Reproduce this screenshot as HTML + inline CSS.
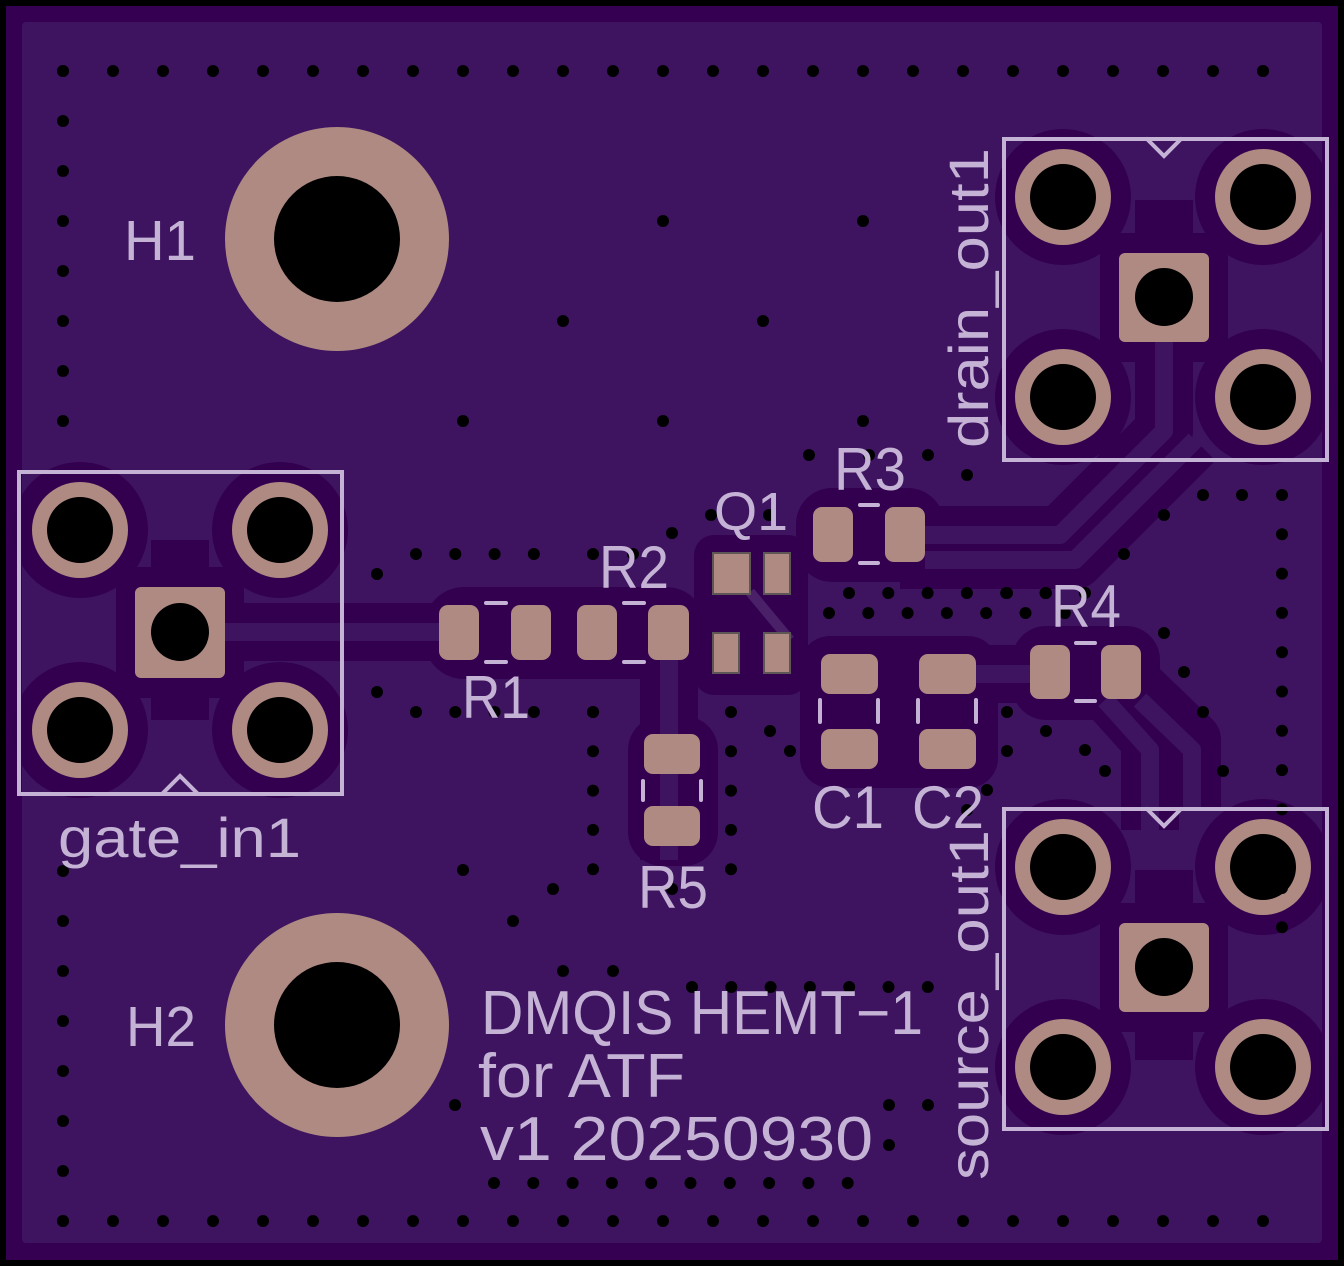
<!DOCTYPE html>
<html><head><meta charset="utf-8"><style>
html,body{margin:0;padding:0;background:#000;}
svg{display:block}
text{font-family:"Liberation Sans",sans-serif;fill:#c5b3d6}
</style></head><body>
<svg width="1344" height="1266" viewBox="0 0 1344 1266" xmlns="http://www.w3.org/2000/svg">
<rect x="0" y="0" width="1344" height="1266" fill="#000"/>
<rect x="6" y="6" width="1332" height="1254" fill="#350052"/>
<rect x="22" y="22" width="1300" height="1221" rx="4" fill="#3e1460"/>

<!-- clearance areas -->
<g fill="#330050">
  <!-- gate connector clearances -->
  <circle cx="80" cy="530" r="68"/><circle cx="280" cy="530" r="68"/>
  <circle cx="80" cy="730" r="68"/><circle cx="280" cy="730" r="68"/>
  <rect x="116" y="567" width="128" height="131" rx="12"/>
  <circle cx="1063" cy="197" r="68"/><circle cx="1263" cy="197" r="68"/>
  <circle cx="1063" cy="397" r="68"/><circle cx="1263" cy="397" r="68"/>
  <rect x="1100" y="233" width="128" height="129" rx="12"/>
  <circle cx="1063" cy="867" r="68"/><circle cx="1263" cy="867" r="68"/>
  <circle cx="1063" cy="1067" r="68"/><circle cx="1263" cy="1067" r="68"/>
  <rect x="1100" y="903" width="128" height="129" rx="12"/>
  <!-- SMD clearances -->
  <rect x="424" y="587" width="282" height="92" rx="40"/>
  <rect x="694" y="535" width="114" height="160" rx="20"/>
  <rect x="796" y="488" width="148" height="94" rx="36"/>
  <rect x="800" y="636" width="198" height="152" rx="30"/>
  <rect x="628" y="716" width="90" height="150" rx="34"/>
  <rect x="1012" y="626" width="148" height="94" rx="34"/>
</g>
<!-- traces: dark clearance then copper -->
<g fill="none" stroke="#330050" stroke-width="58" stroke-linejoin="round">
  <path d="M225 632 H440"/>
  <path d="M669 632 V860"/>
  <path d="M924 535 H1060 L1164 431 V342"/>
  <path d="M900 560 H1075 L1195 440"/>
  <path d="M976 674 H1030"/>
  <path d="M1105 690 L1150 740 V830"/>
  <path d="M1140 690 L1192 740 V810"/>
  <path d="M180 632 V540 M180 632 V720"/>
  <path d="M1164 297 V200"/>
  <path d="M1164 967 V870 M1164 967 V1060"/>
</g>
<g fill="none" stroke="#3e1460" stroke-width="18" stroke-linejoin="round">
  <path d="M225 632 H440"/>
  <path d="M669 660 V860"/>
  <path d="M924 535 H1060 L1164 431 V342"/>
  <path d="M925 560 H1075 L1195 440"/>
  <path d="M976 674 H1030"/>
  <path d="M1105 700 L1150 750 V830"/>
  <path d="M1140 700 L1192 750 V810"/>
  <path d="M750 592 L790 640" stroke="#4a2068" stroke-width="10"/>
</g>

<!-- THT pads -->
<g fill="#ae8a82">
  <circle cx="80" cy="530" r="48"/><circle cx="280" cy="530" r="48"/>
  <circle cx="80" cy="730" r="48"/><circle cx="280" cy="730" r="48"/>
  <rect x="135" y="587" width="90" height="91" rx="6"/>
  <circle cx="1063" cy="197" r="48"/><circle cx="1263" cy="197" r="48"/>
  <circle cx="1063" cy="397" r="48"/><circle cx="1263" cy="397" r="48"/>
  <rect x="1119" y="253" width="90" height="89" rx="6"/>
  <circle cx="1063" cy="867" r="48"/><circle cx="1263" cy="867" r="48"/>
  <circle cx="1063" cy="1067" r="48"/><circle cx="1263" cy="1067" r="48"/>
  <rect x="1119" y="923" width="90" height="89" rx="6"/>
  <circle cx="337" cy="239" r="112"/>
  <circle cx="337" cy="1025" r="112"/>
  <!-- SMD -->
  <rect x="439" y="605" width="40" height="55" rx="9"/><rect x="511" y="605" width="40" height="55" rx="9"/>
  <rect x="577" y="605" width="40" height="55" rx="9"/><rect x="648" y="605" width="41" height="55" rx="9"/>
  <rect x="813" y="507" width="40" height="55" rx="9"/><rect x="885" y="507" width="40" height="55" rx="9"/>
  <rect x="1030" y="645" width="40" height="54" rx="9"/><rect x="1101" y="645" width="40" height="54" rx="9"/>
  <rect x="821" y="654" width="57" height="40" rx="9"/><rect x="821" y="729" width="57" height="40" rx="9"/>
  <rect x="919" y="654" width="57" height="40" rx="9"/><rect x="919" y="729" width="57" height="40" rx="9"/>
  <rect x="644" y="734" width="56" height="40" rx="9"/><rect x="644" y="806" width="56" height="40" rx="9"/>
  <g stroke="#5e5656" stroke-width="2">
    <rect x="713" y="553" width="37" height="41"/><rect x="764" y="553" width="26" height="41"/>
    <rect x="713" y="633" width="26" height="40"/><rect x="764" y="633" width="26" height="40"/>
  </g>
</g>
<!-- holes -->
<g fill="#000">
  <circle cx="80" cy="530" r="33"/><circle cx="280" cy="530" r="33"/>
  <circle cx="80" cy="730" r="33"/><circle cx="280" cy="730" r="33"/>
  <circle cx="180" cy="632" r="29"/>
  <circle cx="1063" cy="197" r="33"/><circle cx="1263" cy="197" r="33"/>
  <circle cx="1063" cy="397" r="33"/><circle cx="1263" cy="397" r="33"/>
  <circle cx="1164" cy="297" r="29"/>
  <circle cx="1063" cy="867" r="33"/><circle cx="1263" cy="867" r="33"/>
  <circle cx="1063" cy="1067" r="33"/><circle cx="1263" cy="1067" r="33"/>
  <circle cx="1164" cy="967" r="29"/>
  <circle cx="337" cy="239" r="63"/>
  <circle cx="337" cy="1025" r="63"/>
</g>

<!-- vias -->
<g stroke="#000" stroke-width="12" stroke-linecap="round" stroke-dasharray="0 50" fill="none">
  <path d="M63 71 H1290"/>
  <path d="M63 1221 H1290"/>
  <path d="M63 71 V440"/>
  <path d="M63 871 V1240"/>
</g>
<g stroke="#000" stroke-width="12" stroke-linecap="round" stroke-dasharray="0 39.3" fill="none">
  <path d="M1282 495 V940"/>
  <path d="M416 554 H545"/>
  <path d="M416 712 H545"/>
  <path d="M593 712 V880"/>
  <path d="M731 712 V880"/>
  <path d="M849 593 H1100"/>
  <path d="M829 613 H1070"/>
  <path d="M494 1183 H860"/>
  <path d="M692 987 H940"/>
</g>
<g fill="#000">
  <circle cx="663" cy="221" r="6"/><circle cx="863" cy="221" r="6"/>
  <circle cx="563" cy="321" r="6"/><circle cx="763" cy="321" r="6"/>
  <circle cx="463" cy="421" r="6"/><circle cx="663" cy="421" r="6"/><circle cx="863" cy="421" r="6"/>
  <circle cx="377" cy="574" r="6"/><circle cx="377" cy="692" r="6"/>
  <circle cx="593" cy="554" r="6"/><circle cx="633" cy="554" r="6"/><circle cx="593" cy="712" r="6"/>
  <circle cx="672" cy="533" r="6"/><circle cx="711" cy="515" r="6"/><circle cx="769" cy="515" r="6"/>
  <circle cx="809" cy="455" r="6"/><circle cx="869" cy="455" r="6"/><circle cx="928" cy="455" r="6"/><circle cx="967" cy="475" r="6"/>
  <circle cx="770" cy="731" r="6"/><circle cx="790" cy="751" r="6"/>
  <circle cx="1007" cy="712" r="6"/><circle cx="1007" cy="751" r="6"/><circle cx="987" cy="790" r="6"/>
  <circle cx="967" cy="810" r="6"/>
  <circle cx="1203" cy="495" r="6"/><circle cx="1242" cy="495" r="6"/>
  <circle cx="1164" cy="515" r="6"/><circle cx="1124" cy="554" r="6"/>
  <circle cx="1164" cy="633" r="6"/><circle cx="1184" cy="672" r="6"/><circle cx="1203" cy="712" r="6"/>
  <circle cx="1046" cy="731" r="6"/><circle cx="1085" cy="750" r="6"/><circle cx="1105" cy="771" r="6"/><circle cx="1223" cy="771" r="6"/>
  <circle cx="1007" cy="593" r="6"/><circle cx="1046" cy="593" r="6"/><circle cx="1085" cy="593" r="6"/>
  <circle cx="513" cy="921" r="6"/><circle cx="463" cy="870" r="6"/>
  <circle cx="553" cy="889" r="6"/><circle cx="672" cy="889" r="6"/>
  <circle cx="563" cy="971" r="6"/><circle cx="613" cy="971" r="6"/>
  <circle cx="455" cy="1105" r="6"/><circle cx="889" cy="1105" r="6"/><circle cx="928" cy="1105" r="6"/><circle cx="889" cy="1145" r="6"/>
  <circle cx="1263" cy="71" r="6"/>
</g>

<!-- silkscreen -->
<g stroke="#c5b3d6" stroke-width="4" fill="none" stroke-linecap="round">
  <rect x="19" y="472" width="323" height="322"/>
  <path d="M163 793 L180 776 L197 793"/>
  <rect x="1004" y="139" width="323" height="321"/>
  <path d="M1147 139 L1164 156 L1181 139"/>
  <rect x="1004" y="809" width="323" height="320"/>
  <path d="M1147 809 L1164 826 L1181 809"/>
  <path d="M486 603 H506 M486 662 H506"/>
  <path d="M624 603 H644 M624 662 H644"/>
  <path d="M860 505 H878 M860 563 H878"/>
  <path d="M1076 643 H1095 M1076 701 H1095"/>
  <path d="M820 700 V722 M878 700 V722"/>
  <path d="M918 700 V722 M976 700 V722"/>
  <path d="M643 781 V800 M701 781 V800"/>
</g>

<g>
  <text x="124" y="260" font-size="57" textLength="72" lengthAdjust="spacingAndGlyphs">H1</text>
  <text x="126" y="1046" font-size="57" textLength="70" lengthAdjust="spacingAndGlyphs">H2</text>
  <text x="58" y="857" font-size="56" textLength="243" lengthAdjust="spacingAndGlyphs">gate_in1</text>
  <text transform="translate(988,448) rotate(-90)" font-size="56" textLength="300" lengthAdjust="spacingAndGlyphs">drain_out1</text>
  <text transform="translate(988,1180) rotate(-90)" font-size="56" textLength="350" lengthAdjust="spacingAndGlyphs">source_out1</text>
  <text x="462" y="718" font-size="60" textLength="68" lengthAdjust="spacingAndGlyphs">R1</text>
  <text x="599" y="588" font-size="60" textLength="70" lengthAdjust="spacingAndGlyphs">R2</text>
  <text x="834" y="490" font-size="60" textLength="72" lengthAdjust="spacingAndGlyphs">R3</text>
  <text x="1051" y="627" font-size="60" textLength="70" lengthAdjust="spacingAndGlyphs">R4</text>
  <text x="638" y="908" font-size="60" textLength="70" lengthAdjust="spacingAndGlyphs">R5</text>
  <text x="714" y="530" font-size="54" textLength="74" lengthAdjust="spacingAndGlyphs">Q1</text>
  <text x="812" y="828" font-size="60" textLength="72" lengthAdjust="spacingAndGlyphs">C1</text>
  <text x="912" y="828" font-size="60" textLength="72" lengthAdjust="spacingAndGlyphs">C2</text>
  <text x="481" y="1034" font-size="62" textLength="442" lengthAdjust="spacingAndGlyphs">DMQIS HEMT−1</text>
  <text x="478" y="1097" font-size="62" textLength="207" lengthAdjust="spacingAndGlyphs">for ATF</text>
  <text x="480" y="1160" font-size="62" textLength="393" lengthAdjust="spacingAndGlyphs">v1 20250930</text>
</g>
</svg>
</body></html>
